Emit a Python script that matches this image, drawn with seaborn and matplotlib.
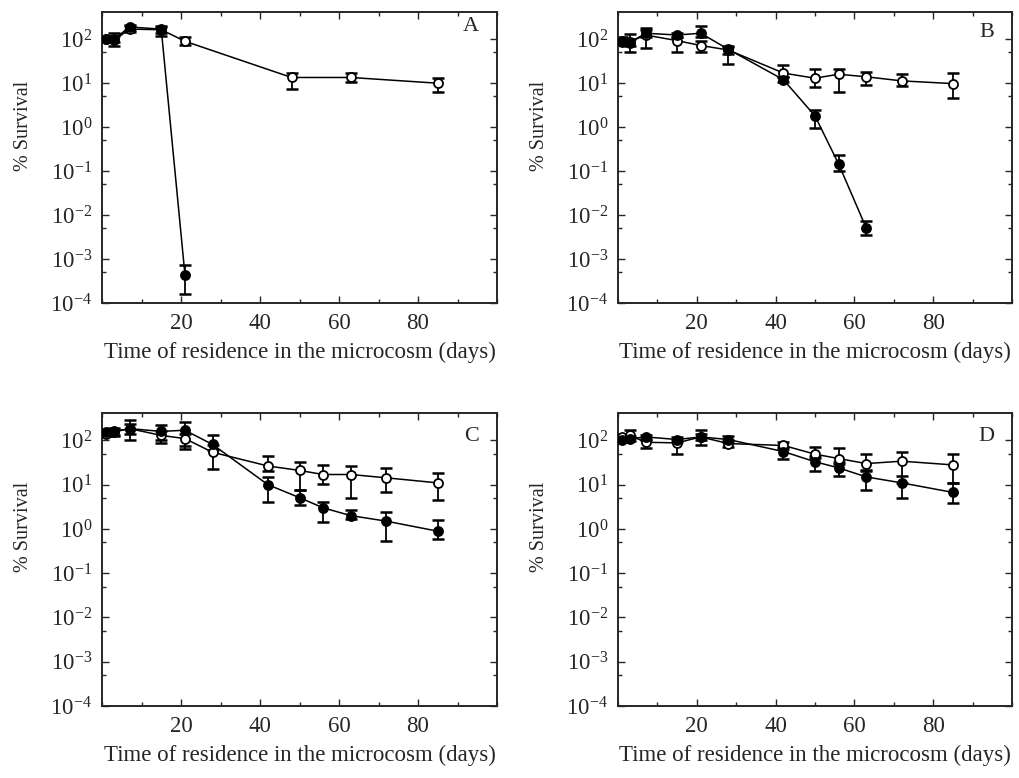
import numpy as np
import pandas as pd
import matplotlib
matplotlib.use("Agg")
import matplotlib.pyplot as plt
import seaborn as sns
from matplotlib.ticker import LogLocator, LogFormatterMathtext, MultipleLocator

sns.set_style("ticks")
plt.rcParams['font.family'] = ['Liberation Serif', 'DejaVu Serif']
plt.rcParams['mathtext.fontset'] = 'custom'
plt.rcParams['mathtext.rm'] = 'Liberation Serif'
plt.rcParams['mathtext.it'] = 'Liberation Serif:italic'

days = [1, 3, 7, 15, 21, 28, 42, 50, 56, 63, 72, 85]

# panel A
a_fill_days = [1, 3, 7, 15, 21]
a_fill = [100, 100, 190, 170, 4.4e-4]
a_fill_lo = [90, 85, 165, 120, 1.6e-4]
a_fill_hi = [115, 120, 215, 200, 7.5e-4]
a_open_days = [1, 3, 7, 15, 21, 48, 63, 85]
a_open = [100, 95, 170, 165, 90, 13.5, 13.5, 10]
a_open_lo = [90, 70, 150, 140, 75, 7.2, 10.7, 6.3]
a_open_hi = [115, 140, 200, 190, 115, 17, 16.7, 12.8]

# panel B
b_fill_days = [1, 3, 7, 15, 21, 28, 42, 50, 56, 63]
b_fill = [93, 84, 137, 125, 137, 59, 12, 1.8, 0.145, 0.0051]
b_fill_lo = [80, 70, 110, 110, 110, 27, 10.5, 0.97, 0.10, 0.0036]
b_fill_hi = [110, 100, 178, 140, 200, 70, 14, 2.4, 0.23, 0.0073]
b_open_days = [1, 3, 7, 15, 21, 28, 42, 50, 56, 63, 72, 85]
b_open = [88, 88, 125, 93, 72, 57, 17, 13, 16, 14, 11.3, 9.8]
b_open_lo = [75, 50, 62, 52, 50, 45, 14, 8, 6.3, 9, 8.7, 4.5]
b_open_hi = [100, 132, 160, 110, 90, 65, 26, 20.6, 21.6, 18.2, 16, 16.7]

# panel C
c_fill = [155, 160, 185, 160, 170, 81, 10, 5.1, 3.0, 2.0, 1.5, 0.89]
c_fill_lo = [140, 125, 100, 87, 64, 60, 4.1, 3.4, 1.4, 1.7, 0.54, 0.6]
c_fill_hi = [170, 190, 290, 220, 265, 130, 15, 7.7, 4.1, 2.7, 2.4, 1.56]
c_open = [140, 155, 185, 130, 110, 54, 26.5, 21, 17, 17, 14.3, 11]
c_open_lo = [125, 130, 140, 100, 75, 23, 20, 7.7, 10.4, 5.1, 7.0, 4.5]
c_open_hi = [155, 180, 230, 160, 140, 80, 45, 33, 28, 26.5, 24, 18]

# panel D
d_fill = [100, 109, 120, 105, 120, 105, 56, 33, 24, 15, 11, 6.7]
d_fill_lo = [90, 95, 105, 90, 77, 90, 39, 20, 16, 7.4, 5, 3.9]
d_fill_hi = [110, 125, 135, 120, 176, 125, 70, 45, 32, 20, 16, 11]
d_open = [120, 130, 91, 88, 120, 85, 77, 49, 39, 30, 34, 28]
d_open_lo = [105, 115, 66, 49, 100, 70, 65, 40, 30, 22, 11, 11]
d_open_hi = [135, 170, 110, 100, 140, 100, 90, 70, 66, 49, 56, 49]

panels = [
    ("A", a_fill_days, a_fill, a_fill_lo, a_fill_hi, a_open_days, a_open, a_open_lo, a_open_hi),
    ("B", b_fill_days, b_fill, b_fill_lo, b_fill_hi, b_open_days, b_open, b_open_lo, b_open_hi),
    ("C", days, c_fill, c_fill_lo, c_fill_hi, days, c_open, c_open_lo, c_open_hi),
    ("D", days, d_fill, d_fill_lo, d_fill_hi, days, d_open, d_open_lo, d_open_hi),
]

fig = plt.figure(figsize=(10.19, 7.78), dpi=100)
W, H = 1019, 778
boxes = [(102, 12, 497, 303), (618, 12, 1012, 303), (102, 413, 497, 706), (618, 413, 1012, 706)]
letter_y = [0.95, 0.93, 0.92, 0.92]


def draw_series(ax, x, y, lo, hi, face):
    y = np.array(y, dtype=float)
    yerr = [y - np.array(lo), np.array(hi) - y]
    ax.errorbar(x, y, yerr=yerr, fmt='none', ecolor='black', elinewidth=1.3,
                capsize=4, capthick=1.8, zorder=2)
    df = pd.DataFrame({"day": x, "surv": y})
    sns.lineplot(data=df, x="day", y="surv", ax=ax, color='black', lw=1.1,
                 marker='o', markersize=6.5, markerfacecolor=face,
                 markeredgecolor='black', markeredgewidth=1.3, zorder=3)


for (name, fx, fy, flo, fhi, ox, oy, olo, ohi), (l, t, r, b), ly in zip(panels, boxes, letter_y):
    ax = fig.add_axes([l / W, 1 - b / H, (r - l) / W, (b - t) / H])
    ax.set_yscale('log')
    draw_series(ax, ox, oy, olo, ohi, 'white')
    draw_series(ax, fx, fy, flo, fhi, 'black')
    ax.set_xlim(0, 100)
    ax.set_ylim(1e-4, 10 ** 2.62)
    ax.xaxis.set_major_locator(MultipleLocator(20))
    ax.xaxis.set_minor_locator(MultipleLocator(10))
    ax.yaxis.set_major_locator(LogLocator(base=10, numticks=10))
    ax.yaxis.set_minor_locator(LogLocator(base=10, subs=[5], numticks=10))
    ax.yaxis.set_major_formatter(LogFormatterMathtext())
    ax.set_xticks([20, 40, 60, 80])
    ax.tick_params(which='both', direction='in', top=True, right=True, width=1)
    ax.tick_params(which='major', length=5, labelsize=16.5, pad=7)
    ax.tick_params(which='minor', length=3)
    for s in ax.spines.values():
        s.set_linewidth(1.4)
    ax.set_xlabel("Time of residence in the microcosm (days)", fontsize=16.5, labelpad=6)
    ax.set_ylabel("% Survival", fontsize=14.5)
    ax.yaxis.set_label_coords(-0.175, 0.61)
    ax.text(0.935, ly, name, transform=ax.transAxes, fontsize=16,
            ha='center', va='center')

fig.savefig("out.png", dpi=100)
